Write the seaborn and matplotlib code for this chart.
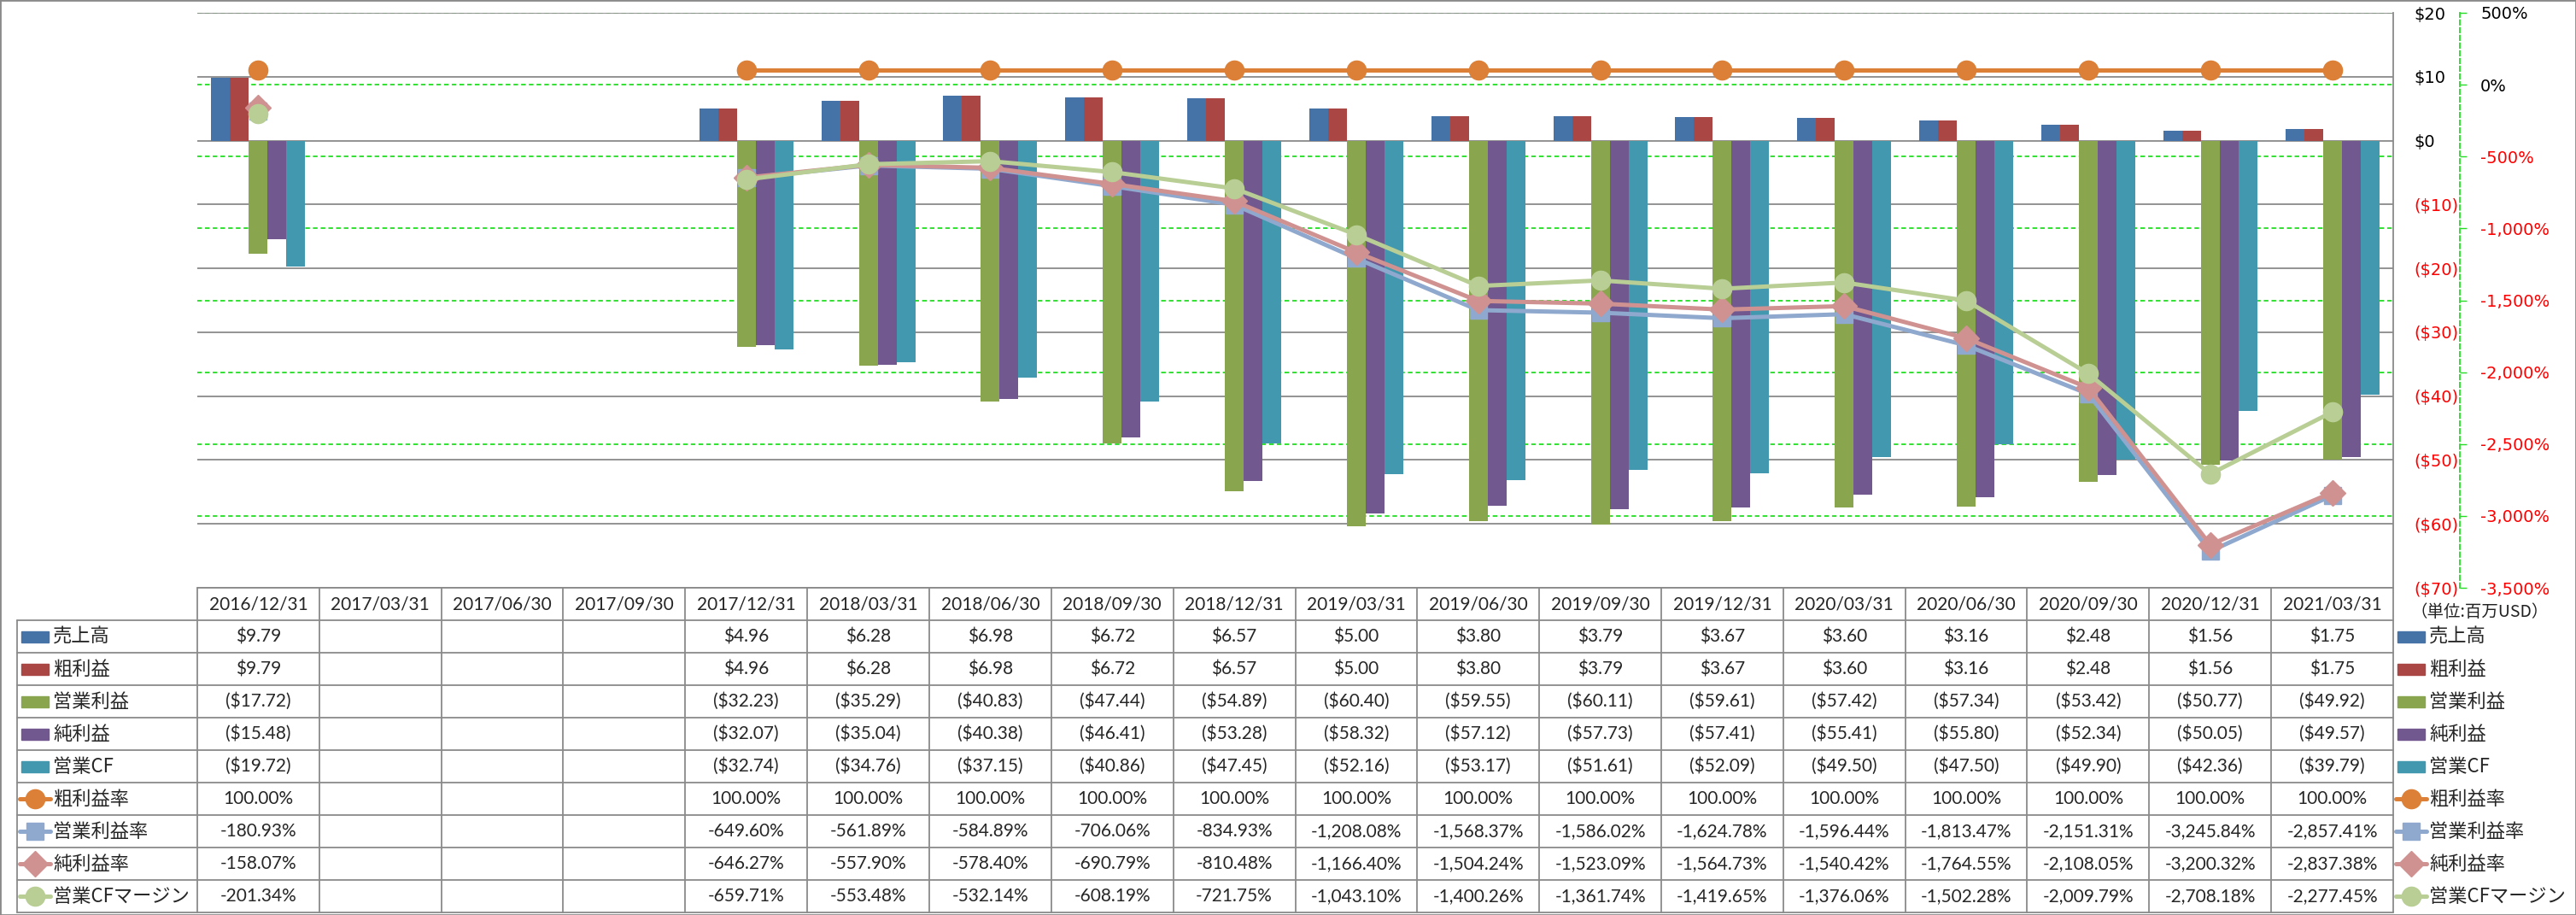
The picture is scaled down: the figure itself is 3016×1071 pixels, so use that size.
import numpy as np
import pandas as pd
import matplotlib
matplotlib.use("Agg")
import matplotlib.pyplot as plt
from matplotlib import transforms
from matplotlib.lines import Line2D
from matplotlib.patches import Rectangle
import seaborn as sns

nan = np.nan

# --- données (millions USD / %) ---
dates = ["2016/12/31", "2017/03/31", "2017/06/30", "2017/09/30", "2017/12/31",
         "2018/03/31", "2018/06/30", "2018/09/30", "2018/12/31", "2019/03/31",
         "2019/06/30", "2019/09/30", "2019/12/31", "2020/03/31", "2020/06/30",
         "2020/09/30", "2020/12/31", "2021/03/31"]

sales = [9.79, nan, nan, nan, 4.96, 6.28, 6.98, 6.72, 6.57, 5.00, 3.80, 3.79, 3.67, 3.60, 3.16, 2.48, 1.56, 1.75]
gross = [9.79, nan, nan, nan, 4.96, 6.28, 6.98, 6.72, 6.57, 5.00, 3.80, 3.79, 3.67, 3.60, 3.16, 2.48, 1.56, 1.75]
op_income = [-17.72, nan, nan, nan, -32.23, -35.29, -40.83, -47.44, -54.89, -60.40, -59.55, -60.11, -59.61,
             -57.42, -57.34, -53.42, -50.77, -49.92]
net_income = [-15.48, nan, nan, nan, -32.07, -35.04, -40.38, -46.41, -53.28, -58.32, -57.12, -57.73, -57.41,
              -55.41, -55.80, -52.34, -50.05, -49.57]
op_cf = [-19.72, nan, nan, nan, -32.74, -34.76, -37.15, -40.86, -47.45, -52.16, -53.17, -51.61, -52.09,
         -49.50, -47.50, -49.90, -42.36, -39.79]

gross_margin = [100.0, nan, nan, nan] + [100.0] * 14
op_margin = [-180.93, nan, nan, nan, -649.60, -561.89, -584.89, -706.06, -834.93, -1208.08, -1568.37,
             -1586.02, -1624.78, -1596.44, -1813.47, -2151.31, -3245.84, -2857.41]
net_margin = [-158.07, nan, nan, nan, -646.27, -557.90, -578.40, -690.79, -810.48, -1166.40, -1504.24,
              -1523.09, -1564.73, -1540.42, -1764.55, -2108.05, -3200.32, -2837.38]
cf_margin = [-201.34, nan, nan, nan, -659.71, -553.48, -532.14, -608.19, -721.75, -1043.10, -1400.26,
             -1361.74, -1419.65, -1376.06, -1502.28, -2009.79, -2708.18, -2277.45]

bar_names = ["売上高", "粗利益", "営業利益", "純利益", "営業CF"]
bar_values = [sales, gross, op_income, net_income, op_cf]
bar_colors = ["#4572A7", "#AA4643", "#89A54E", "#71588F", "#4198AF"]

line_names = ["粗利益率", "営業利益率", "純利益率", "営業CFマージン"]
line_values = [gross_margin, op_margin, net_margin, cf_margin]
line_colors = ["#DD8037", "#8FA8CE", "#D09291", "#B8CE94"]
line_markers = ["o", "s", "D", "o"]
line_msizes = [16, 15, 15, 16]

usd_ticks = list(range(-70, 21, 10))
pct_ticks = list(range(-3500, 501, 500))

# --- style ---
sns.set_theme(style="white")
plt.rcParams["font.family"] = ["Noto Sans CJK JP", "DejaVu Sans"]
TABLE_FONT = ["Lato", "Noto Sans CJK JP"]
AXIS_FONT = ["DejaVu Sans"]
GRAY = "#8A8A8A"
GREEN = "#22DD22"
RED = "#FF0000"

W, H = 3016, 1071
fig = plt.figure(figsize=(W / 100, H / 100), dpi=100)


def rect(x0, y0, x1, y1):
    return [x0 / W, 1 - y1 / H, (x1 - x0) / W, (y1 - y0) / H]


def fy(py):
    return 1 - py / H


def fx(px):
    return px / W


PX = 72 / 100  # px -> pt
plot_rect = rect(231, 15, 2802, 688)
axg = fig.add_axes(plot_rect, label="pct_grid")
ax = fig.add_axes(plot_rect, label="bars")
axl = fig.add_axes(plot_rect, label="lines")

# axe des pourcentages (grille verte en pointillés, en dessous)
axg.set_xlim(-0.5, 17.5)
axg.set_ylim(-3500, 500)
axg.set_xticks([])
axg.set_yticks(pct_ticks)
axg.yaxis.tick_right()
axg.grid(axis="y", color=GREEN, linestyle=(0, (3, 2)), linewidth=1.3)
for s in ["left", "top", "bottom"]:
    axg.spines[s].set_visible(False)
axg.spines["right"].set_position(("outward", 78 * PX))
axg.spines["right"].set_color(GREEN)
axg.spines["right"].set_linestyle((0, (3, 2)))
axg.spines["right"].set_linewidth(1.3)
axg.tick_params(axis="y", direction="out", length=8 * PX, width=1, color=GREEN, pad=16 * PX)
axg.set_yticklabels([f"{v:,}%" for v in pct_ticks], fontsize=14, family=AXIS_FONT)
for lab, v in zip(axg.get_yticklabels(), pct_ticks):
    lab.set_color(RED if v < 0 else "black")

# barres
rows = []
for name, vals in zip(bar_names, bar_values):
    for d, v in zip(dates, vals):
        rows.append((d, name, v))
bars = pd.DataFrame(rows, columns=["date", "series", "value"]).dropna()
sns.barplot(data=bars, x="date", y="value", hue="series", order=dates, hue_order=bar_names,
            palette=bar_colors, width=0.77, saturation=1, errorbar=None, legend=False,
            linewidth=0, ax=ax)
ax.patch.set_visible(False)
ax.set_xlim(-0.5, 17.5)
ax.set_ylim(-70, 20)
ax.set_xlabel("")
ax.set_ylabel("")
ax.tick_params(axis="x", length=0, labelbottom=False)
ax.yaxis.tick_right()
ax.set_yticks(usd_ticks)
ax.set_yticklabels([f"${v}" if v >= 0 else f"(${-v})" for v in usd_ticks], fontsize=14, family=AXIS_FONT)
for lab, v in zip(ax.get_yticklabels(), usd_ticks):
    lab.set_color(RED if v < 0 else "black")
ax.tick_params(axis="y", length=0, pad=24 * PX)
ax.grid(axis="y", color=GRAY, linewidth=1.3)
ax.set_axisbelow(True)
for s in ["left", "top", "bottom"]:
    ax.spines[s].set_visible(False)
ax.spines["right"].set_color(GRAY)
ax.spines["right"].set_linewidth(1.3)

# lignes (ratios)
axl.set_xlim(-0.5, 17.5)
axl.set_ylim(-3500, 500)
axl.axis("off")
xpos = np.arange(len(dates))
for name, vals, c, m, ms in zip(line_names, line_values, line_colors, line_markers, line_msizes):
    axl.plot(xpos, vals, color=c, linewidth=3.6, marker=m, markersize=ms, markerfacecolor=c,
             markeredgecolor=c, clip_on=False)

# --- tableau de données ---
tr = transforms.blended_transform_factory(ax.transData, fig.transFigure)
top, head_bot, row_h = 688, 726, 38
bounds = [head_bot + row_h * k for k in range(10)]


def hline(px0, px1, py):
    fig.add_artist(Line2D([fx(px0), fx(px1)], [fy(py), fy(py)], color=GRAY, linewidth=1.3,
                          transform=fig.transFigure))


hline(231, 2802, top)
for b in bounds:
    hline(20, 2802, b)
for i in range(len(dates) + 1):
    fig.add_artist(Line2D([i - 0.5, i - 0.5], [fy(top), fy(bounds[-1])], color=GRAY,
                          linewidth=1.3, transform=tr))
fig.add_artist(Line2D([fx(20), fx(20)], [fy(head_bot), fy(bounds[-1])], color=GRAY,
                      linewidth=1.3, transform=fig.transFigure))

for i, d in enumerate(dates):
    fig.text(i, fy((top + head_bot) / 2), d, transform=tr, ha="center", va="center",
             fontsize=15, family=TABLE_FONT)


def fmt_usd(v):
    return f"${v:.2f}" if v >= 0 else f"(${-v:.2f})"


table_rows = [(n, v, fmt_usd) for n, v in zip(bar_names, bar_values)] + \
             [(n, v, lambda x: f"{x:,.2f}%") for n, v in zip(line_names, line_values)]
for r, (name, vals, f) in enumerate(table_rows):
    yc = fy(head_bot + row_h * r + row_h / 2)
    for i, v in enumerate(vals):
        if not np.isnan(v):
            fig.text(i, yc, f(v), transform=tr, ha="center", va="center", fontsize=15,
                     family=TABLE_FONT)


def legend_key(px0, yc, r):
    if r < len(bar_names):
        fig.add_artist(Rectangle((fx(px0), yc - 6.5 / H), 32 / W, 13 / H, color=bar_colors[r],
                                 transform=fig.transFigure))
    else:
        k = r - len(bar_names)
        fig.add_artist(Line2D([fx(px0 - 2), fx(px0 + 34)], [yc, yc], color=line_colors[k],
                              linewidth=3.6, transform=fig.transFigure))
        fig.add_artist(Line2D([fx(px0 + 16)], [yc], color=line_colors[k], marker=line_markers[k],
                              markersize=line_msizes[k], transform=fig.transFigure))


for r, (name, vals, f) in enumerate(table_rows):
    yc = fy(head_bot + row_h * r + row_h / 2)
    legend_key(25, yc, r)
    fig.text(fx(62), yc, name, ha="left", va="center", fontsize=16, family=["Noto Sans CJK JP"])
    legend_key(2807, yc, r)
    fig.text(fx(2844), yc, name, ha="left", va="center", fontsize=16, family=["Noto Sans CJK JP"])

fig.text(fx(2823), fy(716), "（単位:百万USD）", ha="left", va="center", fontsize=14,
         family=["Noto Sans CJK JP"], color="#222222")

fig.add_artist(Rectangle((0, 0), 1, 1, fill=False, edgecolor=GRAY, linewidth=2,
                         transform=fig.transFigure))

fig.savefig("out.png", dpi=100)
plt.close(fig)
